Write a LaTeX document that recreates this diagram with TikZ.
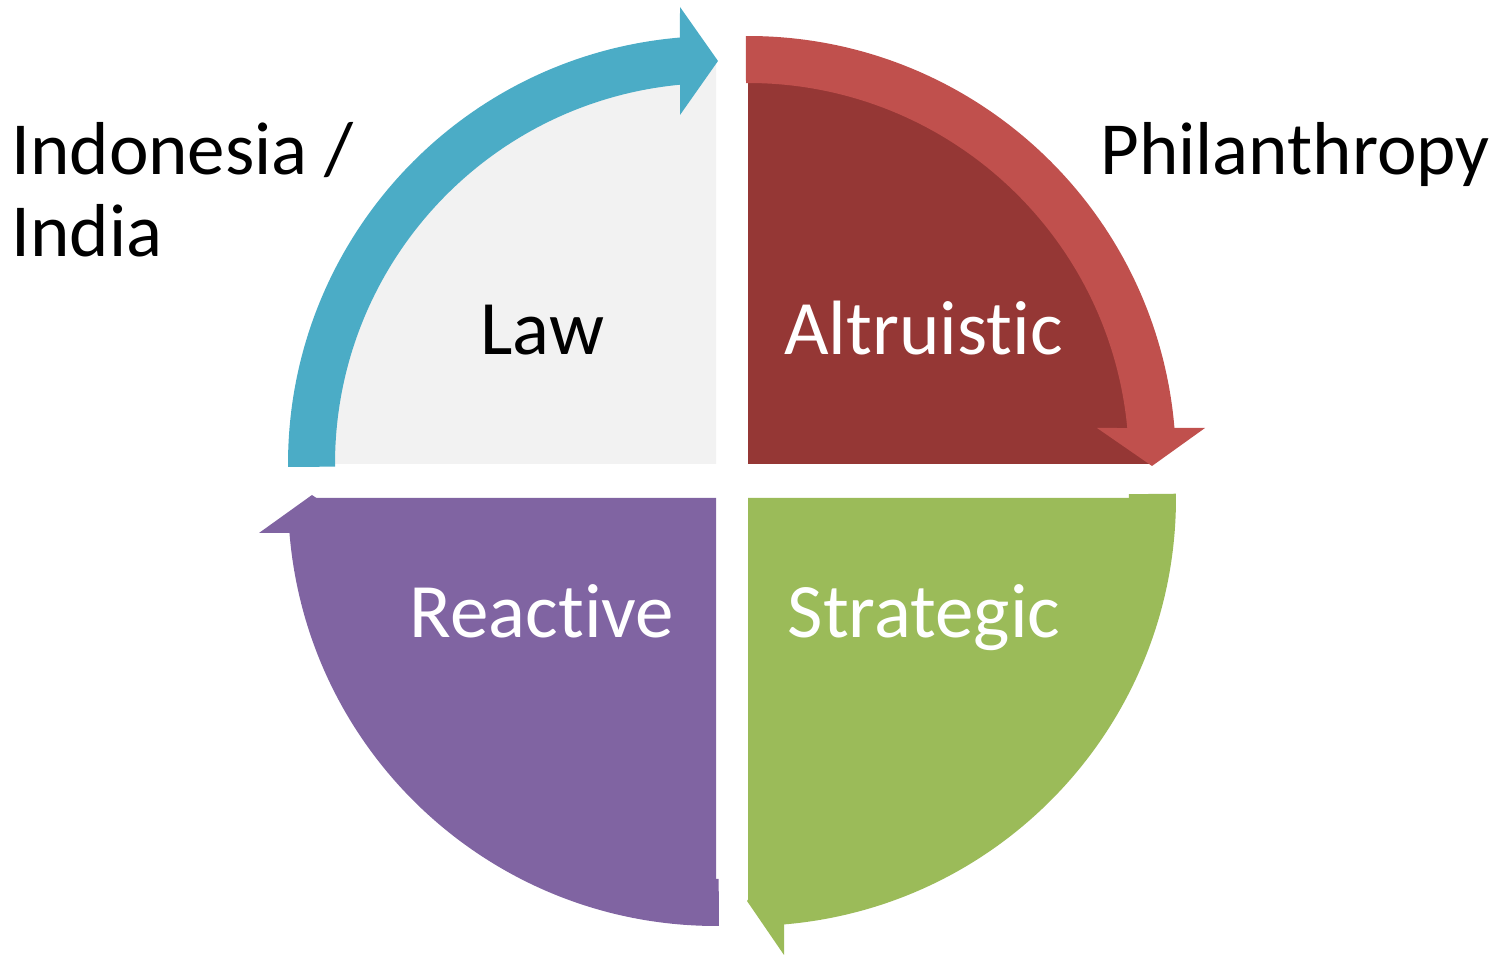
\documentclass[tikz,border=0pt]{standalone}
\usepackage{fontspec}
\setmainfont{Carlito}[Ligatures={NoCommon,NoContextual}]
\definecolor{cblue}{HTML}{4BACC6}
\definecolor{cred}{HTML}{C0504D}
\definecolor{cdred}{HTML}{953735}
\definecolor{cgreen}{HTML}{9BBB59}
\definecolor{cpurple}{HTML}{8064A2}
\definecolor{cgrey}{HTML}{F2F2F2}
\begin{document}
\begin{tikzpicture}[x=0.5pt,y=0.5pt,
  lbl/.style={inner sep=0pt, anchor=base, font=\fontsize{37.5}{45}\selectfont},
  qlbl/.style={inner sep=0pt, anchor=base, font=\fontsize{38.5}{46}\selectfont},
  wlbl/.style={qlbl, text=white}]
\useasboundingbox (0,0) rectangle (1495,956);
% ---- wedges ----
\fill[cgrey] (716,492) -- ++(180:202pt) arc[start angle=180,end angle=90,radius=202pt] -- cycle;
\fill[cdred] (748,492) -- ++(90:202pt) arc[start angle=90,end angle=0,radius=202pt] -- cycle;
\fill[cgreen] (748,458) -- ++(0:202pt) arc[start angle=0,end angle=-90,radius=202pt] -- cycle;
\fill[cpurple] (716,458) -- ++(-90:202pt) arc[start angle=270,end angle=180,radius=202pt] -- cycle;
% ---- arrow bands ----
\begin{scope}[shift={(716,492)}]
\fill[cblue] (180.4:214pt) arc[start angle=180.4,end angle=94.83,radius=214pt]
  -- (-36,457) -- (2,403) -- (-36,349) -- (95.42:190.5pt)
  arc[start angle=95.42,end angle=180.4,radius=190.5pt] -- cycle;
\end{scope}
\begin{scope}[shift={(748,492)}]
\fill[cred] (90.3:214pt) arc[start angle=90.3,end angle=4.83,radius=214pt]
  -- (457,36) -- (404,-2) -- (349,36) -- (5.42:190.5pt)
  arc[start angle=5.42,end angle=90.3,radius=190.5pt] -- cycle;
\end{scope}
\begin{scope}[shift={(748,458)}]
\fill[cgreen] (0.57:214pt) arc[start angle=0.57,end angle=-85.17,radius=214pt]
  -- (36,-457) -- (-1,-403) -- (36,-349) -- (-84.58:190.5pt)
  arc[start angle=-84.58,end angle=0.57,radius=190.5pt] -- cycle;
\end{scope}
\begin{scope}[shift={(716,458)}]
\fill[cpurple] (270.4:214pt) arc[start angle=270.4,end angle=184.69,radius=214pt]
  -- (-457,-35) -- (-404,3) -- (-349,-35) -- (185.27:190.5pt)
  arc[start angle=185.27,end angle=270.4,radius=190.5pt] -- cycle;
\end{scope}
% ---- labels ----
\node[qlbl] (law) at (542.5,601) {Law};
\node[wlbl] (altr) at (923.5,601) {Altruistic};
\node[wlbl] (reac) at (542,318) {Reactive};
\node[wlbl] (strat) at (924,318) {Strategic};
\node[lbl, anchor=base west] (indo) at (11,781) {Indonesia /};
\node[lbl, anchor=base west] (india) at (11,699) {India};
\node[lbl, anchor=base west] (phil) at (1100,781) {Philanthropy};
\end{tikzpicture}
\end{document}
